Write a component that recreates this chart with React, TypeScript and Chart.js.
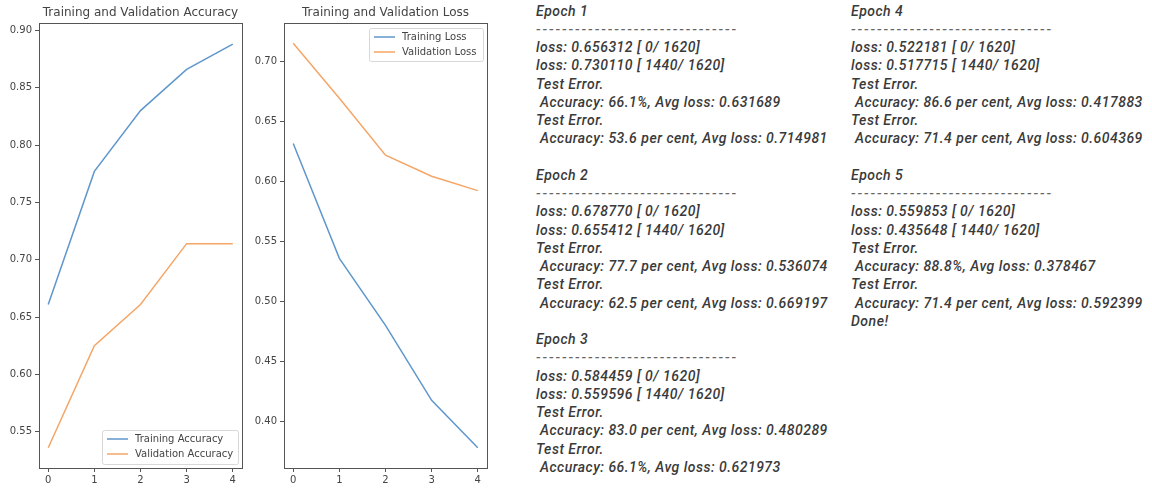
import React, { useEffect, useRef } from "react";
import { Chart, registerables } from "chart.js";

Chart.register(...registerables);

const epochs = [0, 1, 2, 3, 4];
const trainAcc = [0.661, 0.777, 0.83, 0.866, 0.888];
const valAcc = [0.536, 0.625, 0.661, 0.714, 0.714];
const trainLoss = [0.631689, 0.536074, 0.480289, 0.417883, 0.378467];
const valLoss = [0.714981, 0.669197, 0.621973, 0.604369, 0.592399];

const accTitle = "Training and Validation Accuracy";
const lossTitle = "Training and Validation Loss";

const DASHES = "-------------------------------";

const logCol1 = [
  "Epoch 1",
  DASHES,
  "loss: 0.656312 [ 0/ 1620]",
  "loss: 0.730110 [ 1440/ 1620]",
  "Test Error.",
  " Accuracy: 66.1%, Avg loss: 0.631689",
  "Test Error.",
  " Accuracy: 53.6 per cent, Avg loss: 0.714981",
  "",
  "Epoch 2",
  DASHES,
  "loss: 0.678770 [ 0/ 1620]",
  "loss: 0.655412 [ 1440/ 1620]",
  "Test Error.",
  " Accuracy: 77.7 per cent, Avg loss: 0.536074",
  "Test Error.",
  " Accuracy: 62.5 per cent, Avg loss: 0.669197",
  "",
  "Epoch 3",
  DASHES,
  "loss: 0.584459 [ 0/ 1620]",
  "loss: 0.559596 [ 1440/ 1620]",
  "Test Error.",
  " Accuracy: 83.0 per cent, Avg loss: 0.480289",
  "Test Error.",
  " Accuracy: 66.1%, Avg loss: 0.621973",
];

const logCol2 = [
  "Epoch 4",
  DASHES,
  "loss: 0.522181 [ 0/ 1620]",
  "loss: 0.517715 [ 1440/ 1620]",
  "Test Error.",
  " Accuracy: 86.6 per cent, Avg loss: 0.417883",
  "Test Error.",
  " Accuracy: 71.4 per cent, Avg loss: 0.604369",
  "",
  "Epoch 5",
  DASHES,
  "loss: 0.559853 [ 0/ 1620]",
  "loss: 0.435648 [ 1440/ 1620]",
  "Test Error.",
  " Accuracy: 88.8%, Avg loss: 0.378467",
  "Test Error.",
  " Accuracy: 71.4 per cent, Avg loss: 0.592399",
  "Done!",
];

const BLUE = "#5f97cc";
const ORANGE = "#f5a566";
const AXIS = "#555";
const TXT = "#444";
const FONT = "'DejaVu Sans', sans-serif";

type LegendPos = { x: number; y: number; w: number; h: number; rowGap: number };

const framePlugin = {
  id: "mplFrame",
  afterDraw(chart: any, _a: any, opts: any) {
    const { ctx, chartArea } = chart;
    ctx.save();
    ctx.strokeStyle = AXIS;
    ctx.lineWidth = 1;
    ctx.strokeRect(
      Math.round(chartArea.left) + 0.5,
      Math.round(chartArea.top) + 0.5,
      Math.round(chartArea.right - chartArea.left),
      Math.round(chartArea.bottom - chartArea.top)
    );
    // title
    ctx.fillStyle = TXT;
    ctx.font = `12px ${FONT}`;
    ctx.textAlign = "center";
    ctx.textBaseline = "middle";
    ctx.fillText(opts.title, (chartArea.left + chartArea.right) / 2, 13);
    // legend
    const lp: LegendPos = opts.legend;
    const x = chartArea.left + lp.x;
    const y = chartArea.top + lp.y;
    ctx.fillStyle = "rgba(255,255,255,0.85)";
    ctx.strokeStyle = "#d8d8d8";
    ctx.beginPath();
    ctx.roundRect(x + 0.5, y + 0.5, lp.w, lp.h, 2);
    ctx.fill();
    ctx.stroke();
    ctx.font = `10px ${FONT}`;
    ctx.textAlign = "left";
    chart.data.datasets.forEach((ds: any, i: number) => {
      const ry = y + 9 + i * lp.rowGap;
      ctx.strokeStyle = ds.borderColor;
      ctx.lineWidth = 1.5;
      ctx.beginPath();
      ctx.moveTo(x + 5, ry);
      ctx.lineTo(x + 26, ry);
      ctx.stroke();
      ctx.fillStyle = TXT;
      ctx.fillText(ds.label, x + 33, ry);
    });
    ctx.restore();
  },
};

function makeConfig(
  title: string,
  labels: string[],
  a: number[],
  b: number[],
  yMin: number,
  yMax: number,
  padRight: number,
  legend: LegendPos
): any {
  return {
    type: "line",
    data: {
      datasets: [
        {
          label: labels[0],
          data: epochs.map((e, i) => ({ x: e, y: a[i] })),
          borderColor: BLUE,
          backgroundColor: BLUE,
          borderWidth: 1.5,
          pointRadius: 0,
          tension: 0,
        },
        {
          label: labels[1],
          data: epochs.map((e, i) => ({ x: e, y: b[i] })),
          borderColor: ORANGE,
          backgroundColor: ORANGE,
          borderWidth: 1.5,
          pointRadius: 0,
          tension: 0,
        },
      ],
    },
    options: {
      animation: false,
      responsive: false,
      layout: { padding: { top: 23, right: padRight, bottom: 0, left: 0 } },
      plugins: {
        legend: { display: false },
        title: { display: false },
        tooltip: { enabled: false },
        mplFrame: { title, legend },
      },
      scales: {
        x: {
          type: "linear",
          min: -0.2,
          max: 4.2,
          afterFit: (s: any) => {
            s.height = 22;
          },
          ticks: {
            stepSize: 1,
            includeBounds: false,
            color: TXT,
            font: { family: FONT, size: 10 },
            padding: 2,
            maxRotation: 0,
            callback: (v: number) => String(v),
          },
          grid: {
            drawOnChartArea: false,
            drawTicks: true,
            tickLength: 4,
            tickColor: AXIS,
          },
          border: { display: false },
        },
        y: {
          type: "linear",
          min: yMin,
          max: yMax,
          afterFit: (s: any) => {
            s.width = 39;
          },
          ticks: {
            stepSize: 0.05,
            includeBounds: false,
            color: TXT,
            font: { family: FONT, size: 10 },
            padding: 3,
            callback: (v: number) => v.toFixed(2),
          },
          grid: {
            drawOnChartArea: false,
            drawTicks: true,
            tickLength: 4,
            tickColor: AXIS,
          },
          border: { display: false },
        },
      },
    },
    plugins: [framePlugin],
  };
}

function ChartCanvas(props: { left: number; width: number; config: () => any }) {
  const ref = useRef<HTMLCanvasElement>(null);
  useEffect(() => {
    if (!ref.current) return;
    const c = new Chart(ref.current, props.config());
    return () => c.destroy();
  }, []);
  return (
    <canvas
      ref={ref}
      width={props.width}
      height={490}
      style={{ position: "absolute", left: props.left, top: 0, width: props.width, height: 490 }}
    />
  );
}

const LH = 18.25;

const logStyle: React.CSSProperties = {
  position: "absolute",
  top: 1.5,
  fontFamily: "Roboto, 'Noto Sans', sans-serif",
  fontStyle: "italic",
  fontWeight: 500,
  fontSize: 14,
  lineHeight: `${LH}px`,
  color: "#3a3a3a",
  whiteSpace: "pre",
  letterSpacing: "0.5px",
};

function LogColumn(props: { left: number; lines: string[] }) {
  return (
    <div style={{ ...logStyle, left: props.left }}>
      {props.lines.map((l, i) => (
        <div
          key={i}
          style={{
            height: LH,
            letterSpacing: l === DASHES ? "1.9px" : undefined,
            color: l === DASHES ? "#666" : undefined,
          }}
        >
          {l}
        </div>
      ))}
    </div>
  );
}

export default function App() {
  return (
    <div
      style={{
        position: "fixed",
        left: 0,
        top: 0,
        width: 1152,
        height: 490,
        background: "#fff",
        overflow: "hidden",
      }}
    >
      <ChartCanvas
        left={0}
        width={245}
        config={() =>
          makeConfig(
            accTitle,
            ["Training Accuracy", "Validation Accuracy"],
            trainAcc,
            valAcc,
            0.5184,
            0.9064,
            3,
            { x: 63, y: 407, w: 136, h: 34, rowGap: 15 }
          )
        }
      />
      <ChartCanvas
        left={245}
        width={250}
        config={() =>
          makeConfig(
            lossTitle,
            ["Training Loss", "Validation Loss"],
            trainLoss,
            valLoss,
            0.3616,
            0.7319,
            8,
            { x: 85, y: 5, w: 114, h: 33, rowGap: 15 }
          )
        }
      />
      <LogColumn left={536} lines={logCol1} />
      <LogColumn left={851} lines={logCol2} />
    </div>
  );
}
